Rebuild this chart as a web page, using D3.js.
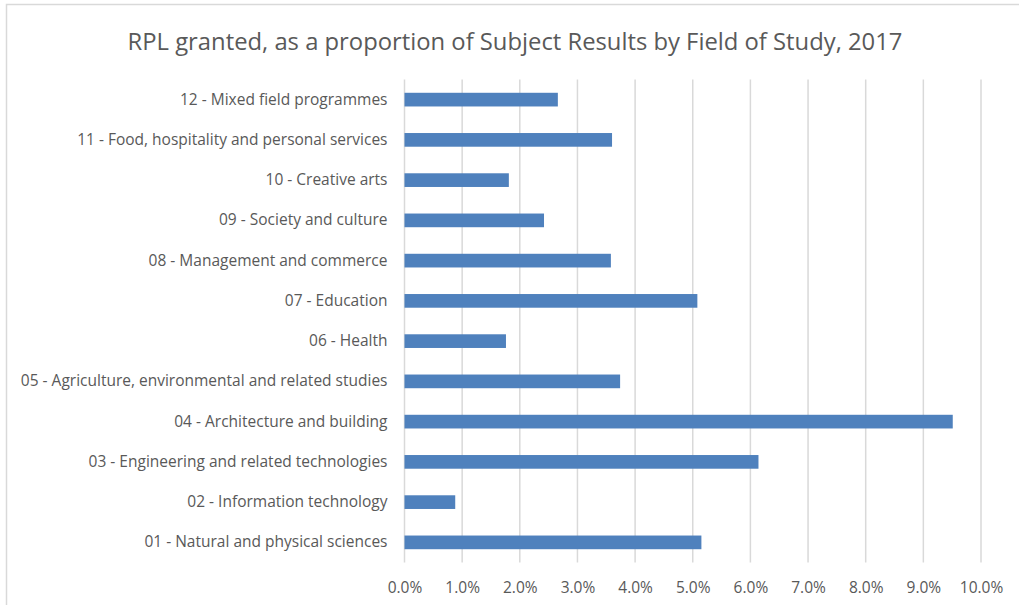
<!DOCTYPE html>
<html>
<head>
<meta charset="utf-8">
<script src="https://cdn.jsdelivr.net/npm/d3@7"></script>
<style>
  body { margin: 0; background: #fff; }
  svg { display: block; font-family: "Open Sans", sans-serif; }
</style>
</head>
<body>
<div id="chart"></div>
<script>
const title = "RPL granted, as a proportion of Subject Results by Field of Study, 2017";

const fields = [
  "12 - Mixed field programmes",
  "11 - Food, hospitality and personal services",
  "10 - Creative arts",
  "09 - Society and culture",
  "08 - Management and commerce",
  "07 - Education",
  "06 - Health",
  "05 - Agriculture, environmental and related studies",
  "04 - Architecture and building",
  "03 - Engineering and related technologies",
  "02 - Information technology",
  "01 - Natural and physical sciences"
];
const rplShare = [0.0266, 0.0360, 0.0181, 0.0242, 0.0358, 0.0508, 0.0176, 0.0374, 0.0951, 0.0614, 0.0088, 0.0515];
const xTicks = [0, 0.01, 0.02, 0.03, 0.04, 0.05, 0.06, 0.07, 0.08, 0.09, 0.10];

const width = 1019, height = 605;
const margin = { top: 79.5, right: 38, bottom: 42.5, left: 404.5 };
const innerW = width - margin.left - margin.right;
const innerH = height - margin.top - margin.bottom;

const svg = d3.select("#chart").append("svg")
  .attr("width", width)
  .attr("height", height);

// chart frame (only top/left edge visible in the crop)
svg.append("rect")
  .attr("x", 6.5).attr("y", 4.5)
  .attr("width", width + 20).attr("height", height + 20)
  .attr("fill", "none")
  .attr("stroke", "#d9d9d9")
  .attr("stroke-width", 1.5);

svg.append("text")
  .attr("x", 515)
  .attr("y", 49.5)
  .attr("text-anchor", "middle")
  .attr("fill", "#595959")
  .style("font-size", "23.8px")
  .text(title);

const g = svg.append("g")
  .attr("transform", `translate(${margin.left},${margin.top})`);

const x = d3.scaleLinear().domain([0, 0.10]).range([0, innerW]);
const y = d3.scaleBand().domain(fields).range([0, innerH])
  .paddingInner(0.66).paddingOuter(0.33);

// gridlines
g.append("g")
  .selectAll("line")
  .data(xTicks)
  .join("line")
  .attr("x1", d => x(d)).attr("x2", d => x(d))
  .attr("y1", 0).attr("y2", innerH)
  .attr("stroke", "#d9d9d9")
  .attr("stroke-width", 1.5);

// bars
g.append("g")
  .selectAll("rect")
  .data(fields)
  .join("rect")
  .attr("x", x(0))
  .attr("y", d => y(d))
  .attr("width", (d, i) => x(rplShare[i]) - x(0))
  .attr("height", y.bandwidth())
  .attr("fill", "#4f81bd");

// category axis
const yAxis = g.append("g")
  .call(d3.axisLeft(y).tickSize(0).tickPadding(17));
yAxis.select(".domain").remove();
yAxis.selectAll("text")
  .attr("fill", "#595959")
  .style("font-size", "15.5px")
  .style("font-family", "'Open Sans', sans-serif");

// value axis
const xAxis = g.append("g")
  .attr("transform", `translate(0,${innerH})`)
  .call(d3.axisBottom(x).tickValues(xTicks).tickSize(0).tickPadding(19)
    .tickFormat(d3.format(".1%")));
xAxis.select(".domain").remove();
xAxis.selectAll("text")
  .attr("fill", "#595959")
  .style("font-size", "15.5px")
  .style("font-family", "'Open Sans', sans-serif");
</script>
</body>
</html>
